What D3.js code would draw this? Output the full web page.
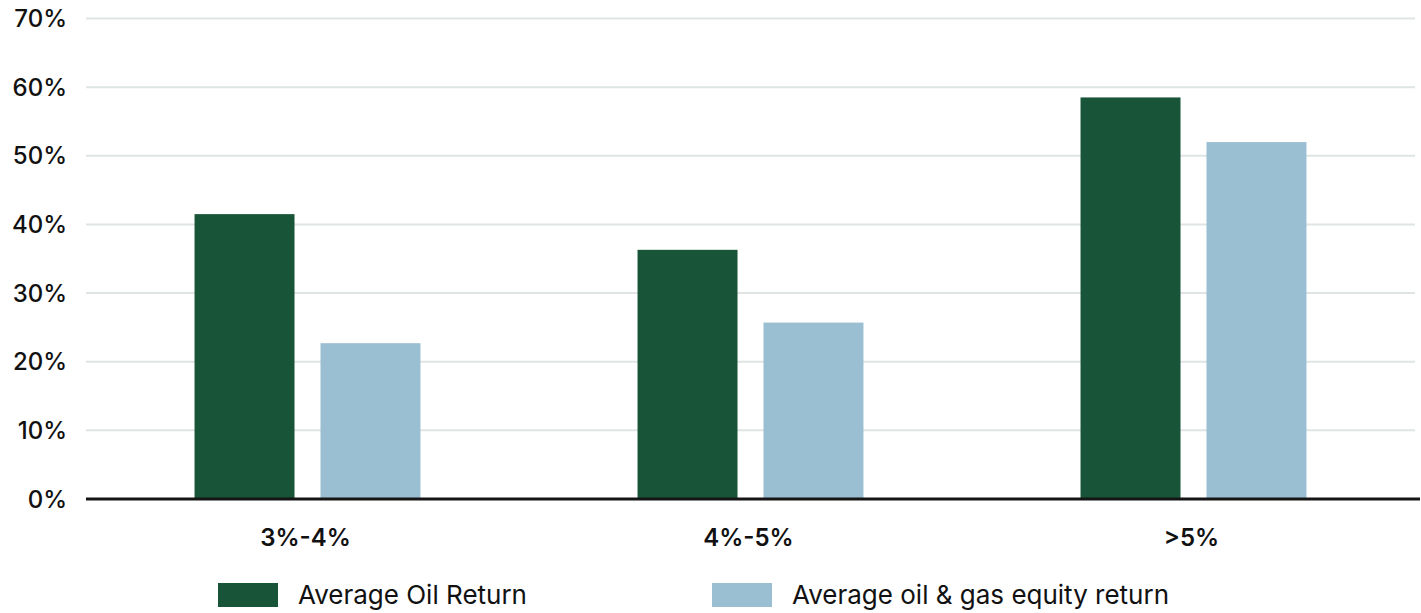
<!DOCTYPE html>
<html lang="en">
<head>
    <meta charset="UTF-8">
    <title>Oil vs Oil & Gas Equity Returns</title>
    <script src="https://d3js.org/d3.v7.min.js"></script>
    <style>
        body {
            margin: 0;
            background: #fff;
            font-family: Inter, "Noto Sans", Arial, sans-serif;
        }
        .tick-label {
            font-size: 24px;
            font-weight: 500;
            fill: #111;
        }
        .cat-label {
            font-size: 24px;
            font-weight: 600;
            fill: #111;
        }
        .legend-text {
            font-size: 26px;
            font-weight: 400;
            fill: #111;
        }
    </style>
</head>
<body>

<div id="chart"></div>

<script>
    // data
    const categories = ["3%-4%", "4%-5%", ">5%"];
    const seriesNames = ["Average Oil Return", "Average oil & gas equity return"];
    const oilReturn = [41.5, 36.3, 58.5];
    const equityReturn = [22.7, 25.7, 52.0];
    const yTicks = [0, 10, 20, 30, 40, 50, 60, 70];
    const colors = ["#175438", "#9bbfd2"];

    const width = 1421;
    const height = 613;
    const plotLeft = 86, plotRight = 1415;
    const plotTop = 18.5, plotBottom = 499;

    const svg = d3.select("#chart")
        .append("svg")
        .attr("width", width)
        .attr("height", height);

    const y = d3.scaleLinear().domain([0, 70]).range([plotBottom, plotTop]);

    const x0 = d3.scaleBand()
        .domain(categories)
        .range([plotLeft, plotRight])
        .paddingInner(0.49)
        .paddingOuter(0.245);

    const x1 = d3.scaleBand()
        .domain(seriesNames)
        .range([0, x0.bandwidth()])
        .paddingInner(0.2063);

    // gridlines
    svg.selectAll(".grid")
        .data(yTicks.filter(d => d > 0))
        .enter()
        .append("line")
        .attr("x1", plotLeft)
        .attr("x2", plotRight)
        .attr("y1", d => y(d))
        .attr("y2", d => y(d))
        .attr("stroke", "#dfe5e4")
        .attr("stroke-width", 2);

    // y tick labels
    svg.selectAll(".tick-label")
        .data(yTicks)
        .enter()
        .append("text")
        .attr("class", "tick-label")
        .attr("x", 67)
        .attr("y", d => y(d))
        .attr("dy", "0.36em")
        .attr("text-anchor", "end")
        .text(d => d + "%");

    // bars
    const rows = categories.map((c, i) => ({
        cat: c,
        values: [oilReturn[i], equityReturn[i]]
    }));

    const groups = svg.selectAll(".group")
        .data(rows)
        .enter()
        .append("g")
        .attr("transform", d => `translate(${x0(d.cat)},0)`);

    groups.selectAll("rect")
        .data(d => d.values.map((v, j) => ({ name: seriesNames[j], value: v, j: j })))
        .enter()
        .append("rect")
        .attr("x", d => x1(d.name))
        .attr("y", d => y(d.value))
        .attr("width", x1.bandwidth())
        .attr("height", d => plotBottom - y(d.value))
        .attr("fill", d => colors[d.j]);

    // baseline
    svg.append("line")
        .attr("x1", plotLeft)
        .attr("x2", width - 1)
        .attr("y1", y(0))
        .attr("y2", y(0))
        .attr("stroke", "#151515")
        .attr("stroke-width", 3);

    // category labels
    svg.selectAll(".cat-label")
        .data(categories)
        .enter()
        .append("text")
        .attr("class", "cat-label")
        .attr("x", d => x0(d) + x0.bandwidth() / 2 - 2)
        .attr("y", 546)
        .attr("text-anchor", "middle")
        .text(d => d);

    // legend
    const legendX = [218, 712];
    const legend = svg.selectAll(".legend")
        .data(seriesNames)
        .enter()
        .append("g")
        .attr("transform", (d, i) => `translate(${legendX[i]},583)`);

    legend.append("rect")
        .attr("width", 60)
        .attr("height", 24)
        .attr("fill", (d, i) => colors[i]);

    legend.append("text")
        .attr("class", "legend-text")
        .attr("x", 80)
        .attr("y", 21)
        .text(d => d);
</script>
</body>
</html>
